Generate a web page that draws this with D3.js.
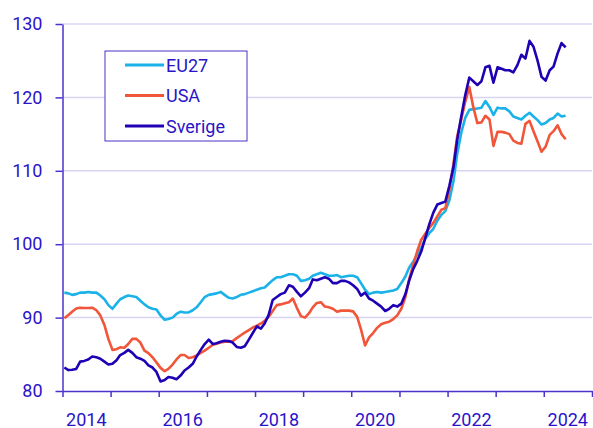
<!DOCTYPE html>
<html>
<head>
<meta charset="utf-8">
<script src="https://cdn.jsdelivr.net/npm/d3@7"></script>
<style>
  body { margin: 0; background: #fff; }
  svg { display: block; font-family: Roboto, "Noto Sans", sans-serif; }
</style>
</head>
<body>
<script>
// monthly index values, Jan 2014 - Jun 2024
const eu27 = [
  93.4, 93.3, 93.1, 93.2, 93.4, 93.4, 93.5, 93.4, 93.4, 93.0, 92.5, 91.7,
  91.2, 91.9, 92.5, 92.8, 93.0, 92.9, 92.8, 92.3, 91.8, 91.4, 91.2, 91.1,
  90.3, 89.7, 89.8, 90.0, 90.5, 90.8, 90.7, 90.7, 91.0, 91.4, 92.1, 92.8,
  93.1, 93.2, 93.3, 93.5, 93.1, 92.7, 92.6, 92.8, 93.1, 93.2, 93.4, 93.6,
  93.8, 94.0, 94.1, 94.6, 95.1, 95.5, 95.5, 95.7, 95.9, 95.9, 95.7, 95.0,
  95.1, 95.3, 95.7, 95.9, 96.1, 95.9, 95.7, 95.7, 95.8, 95.5, 95.6, 95.7,
  95.7, 95.5, 94.7, 93.8, 93.2, 93.4, 93.5, 93.4, 93.5, 93.6, 93.7, 93.9,
  94.7, 95.6, 96.8, 97.6, 98.6, 99.5, 100.7, 101.5, 102.1, 103.2, 104.0, 104.5,
  106.0, 108.6, 112.3, 115.2, 117.2, 118.3, 118.4, 118.5, 118.6, 119.5, 118.7, 117.6,
  118.6, 118.5, 118.5, 118.1, 117.4, 117.2, 117.0, 117.5, 117.9, 117.4, 116.9, 116.3,
  116.5, 117.0, 117.2, 117.8, 117.4, 117.5
];
const usa = [
  89.9, 90.35, 90.8, 91.25, 91.35, 91.3, 91.3, 91.35, 91.0, 90.3, 89.0, 87.1,
  85.6, 85.7, 85.95, 85.9, 86.4, 87.1, 87.1, 86.6, 85.5, 85.15, 84.6, 83.9,
  83.15, 82.7, 83.0, 83.6, 84.3, 84.9, 84.9, 84.5, 84.6, 84.85, 85.2, 85.5,
  85.9, 86.3, 86.45, 86.6, 86.7, 86.7, 86.8, 87.2, 87.6, 87.95, 88.3, 88.65,
  88.9, 89.2, 89.55, 90.1, 90.9, 91.7, 91.8, 91.95, 92.1, 92.6, 91.3, 90.2,
  90.0, 90.6, 91.4, 92.0, 92.1, 91.5, 91.4, 91.2, 90.8, 90.95, 90.95, 90.95,
  90.85, 90.1, 88.4, 86.2, 87.3, 87.9, 88.6, 89.1, 89.3, 89.45, 89.8, 90.3,
  91.2, 92.8, 95.2, 97.2, 99.0, 100.6, 101.4, 102.2, 102.9, 103.8, 104.7, 104.9,
  107.4, 111.0, 114.7, 117.0, 119.4, 121.4, 118.7, 116.5, 116.6, 117.5, 117.0, 113.4,
  115.3, 115.3, 115.2, 115.0, 114.1, 113.8, 113.7, 116.4, 116.8, 115.4, 114.0, 112.6,
  113.3, 114.9, 115.4, 116.2, 115.0, 114.3
];
const sverige = [
  83.2, 82.85, 82.9, 83.0, 84.0, 84.1, 84.3, 84.7, 84.6, 84.4, 84.0, 83.6,
  83.7, 84.2, 84.9, 85.2, 85.6, 85.2, 84.6, 84.4, 84.1, 83.5, 83.2, 82.6,
  81.3, 81.5, 81.9, 81.8, 81.6, 82.1, 82.8, 83.2, 83.7, 84.7, 85.6, 86.4,
  87.0, 86.4, 86.5, 86.7, 86.85, 86.8, 86.6, 86.0, 85.9, 86.1, 87.0, 87.9,
  88.8, 88.5, 89.2, 90.4, 92.4, 92.8, 93.2, 93.4, 94.4, 94.2, 93.5, 92.9,
  93.4, 94.0, 95.2, 95.1, 95.3, 95.5, 95.3, 94.7, 94.7, 95.0, 95.0, 94.8,
  94.4, 93.9, 93.0, 93.4, 92.6, 92.3, 91.9, 91.5, 90.9, 91.2, 91.7, 91.5,
  91.9, 93.2, 95.0, 96.6, 97.7, 99.0, 100.8, 102.7, 104.3, 105.4, 105.6, 105.8,
  108.0, 110.5, 114.2, 117.4, 120.3, 122.7, 122.2, 121.7, 122.2, 124.1, 124.3, 122.0,
  124.1, 123.9, 123.7, 123.7, 123.4, 124.4, 125.8, 125.3, 127.7, 126.9, 125.0, 122.8,
  122.3, 123.7, 124.2, 126.0, 127.4, 126.8
];
const seriesNames = ["EU27", "USA", "Sverige"];
const seriesColors = ["#1ab2e8", "#f2563a", "#2000b4"];
const yTicks = [80, 90, 100, 110, 120, 130];
const yearLabels = ["2014", "2016", "2018", "2020", "2022", "2024"];

const textColor = "#2a14c8";
const axisColor = "#4a32cc";
const gridColor = "#d8d4f4";

const W = 593, H = 428;
const margin = { top: 24, right: 1, bottom: 37, left: 62.5 };

const svg = d3.select("body").append("svg")
    .attr("width", W)
    .attr("height", H);

const xScale = d3.scaleTime()
    .domain([new Date(2014, 0, 1), new Date(2025, 0, 1)])
    .range([margin.left, W - margin.right]);

const yScale = d3.scaleLinear()
    .domain([80, 130])
    .range([H - margin.bottom, margin.top]);

// gridlines
svg.append("g")
    .selectAll("line")
    .data(yTicks.slice(1))
    .enter().append("line")
    .attr("x1", margin.left)
    .attr("x2", W - margin.right)
    .attr("y1", d => yScale(d))
    .attr("y2", d => yScale(d))
    .attr("stroke", gridColor)
    .attr("stroke-width", 1.5);

// y axis
const yAxis = svg.append("g")
    .attr("transform", "translate(" + margin.left + ",0)")
    .call(d3.axisLeft(yScale).tickValues(yTicks).tickSize(7).tickSizeOuter(0).tickPadding(13));

// x axis: a tick every year, labels every second year centred in the year
const yearTicks = d3.range(2014, 2026).map(y => new Date(y, 0, 1));
const xAxis = svg.append("g")
    .attr("transform", "translate(0," + (H - margin.bottom) + ")")
    .call(d3.axisBottom(xScale).tickValues(yearTicks).tickSize(6).tickSizeOuter(0).tickFormat(""));

[yAxis, xAxis].forEach(g => {
    g.selectAll("path, line").attr("stroke", axisColor).attr("stroke-width", 1.5);
    g.selectAll("text").attr("fill", textColor).style("font-size", "18px").style("font-family", "Roboto");
});

svg.append("g")
    .selectAll("text")
    .data(yearLabels)
    .enter().append("text")
    .attr("x", d => xScale(new Date(+d, 6, 1)))
    .attr("y", H - 2.5)
    .attr("text-anchor", "middle")
    .attr("fill", textColor)
    .style("font-size", "18px")
    .text(d => d);

// lines
const allSeries = [eu27, usa, sverige];
const line = d3.line()
    .x((d, i) => xScale(new Date(2014, i, 15)))
    .y(d => yScale(d));

svg.append("g")
    .selectAll("path")
    .data(allSeries)
    .enter().append("path")
    .attr("d", d => line(d))
    .attr("fill", "none")
    .attr("stroke", (d, i) => seriesColors[i])
    .attr("stroke-width", 2.6)
    .attr("stroke-linejoin", "round");

// legend
const legend = svg.append("g").attr("transform", "translate(105,51)");
legend.append("rect")
    .attr("width", 142)
    .attr("height", 90)
    .attr("fill", "#fff")
    .attr("stroke", axisColor)
    .attr("stroke-width", 1);

const items = legend.selectAll("g.item")
    .data(seriesNames)
    .enter().append("g")
    .attr("class", "item")
    .attr("transform", (d, i) => "translate(0," + (14 + i * 30.5) + ")");

items.append("line")
    .attr("x1", 20).attr("x2", 59)
    .attr("stroke", (d, i) => seriesColors[i])
    .attr("stroke-width", 3);

items.append("text")
    .attr("x", 61)
    .attr("y", 6.5)
    .attr("fill", textColor)
    .style("font-size", "18px")
    .text(d => d);
</script>
</body>
</html>
